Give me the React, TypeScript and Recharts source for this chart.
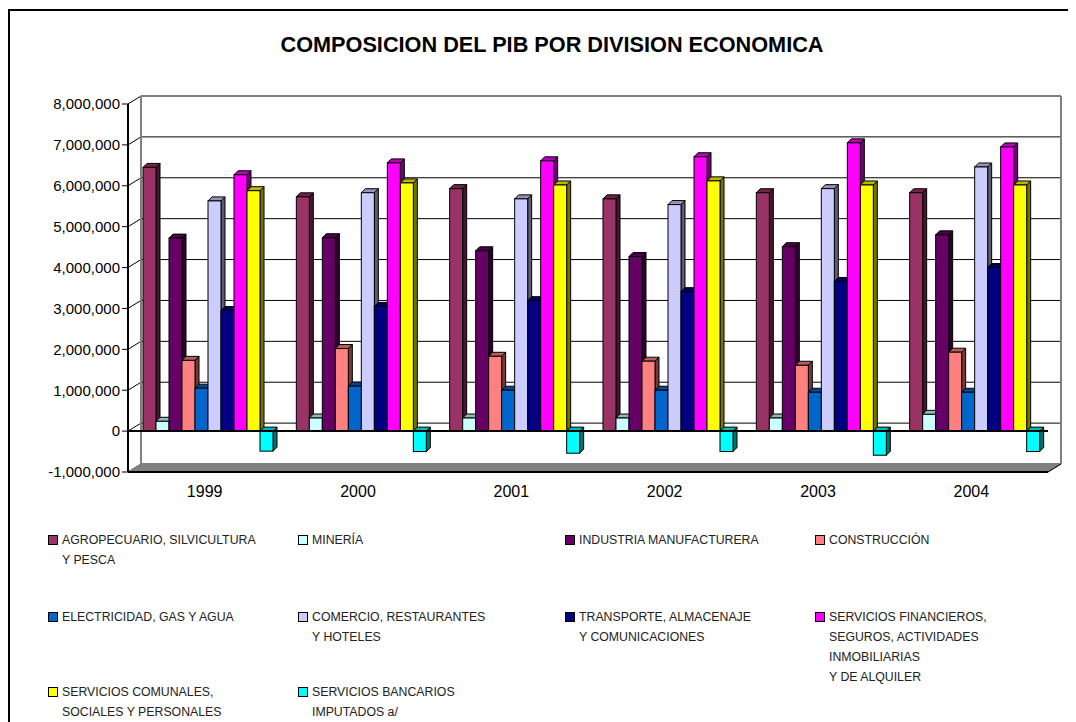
import React from 'react';
import { BarChart, Bar, XAxis, YAxis, CartesianGrid, ReferenceLine, ReferenceArea } from 'recharts';

const years = ['1999', '2000', '2001', '2002', '2003', '2004'];
const agropecuario = [6450000, 5730000, 5930000, 5680000, 5830000, 5830000];
const mineria = [240000, 320000, 320000, 320000, 320000, 410000];
const industria = [4720000, 4730000, 4410000, 4270000, 4510000, 4800000];
const construccion = [1730000, 2020000, 1830000, 1710000, 1610000, 1930000];
const electricidad = [1050000, 1100000, 1000000, 1000000, 950000, 950000];
const comercio = [5630000, 5830000, 5680000, 5540000, 5930000, 6460000];
const transporte = [2950000, 3050000, 3190000, 3410000, 3660000, 4000000];
const financieros = [6270000, 6560000, 6610000, 6710000, 7050000, 6950000];
const comunales = [5880000, 6070000, 6020000, 6120000, 6020000, 6020000];
const bancarios = [-490000, -500000, -540000, -500000, -590000, -500000];

const yTicks = [-1000000, 0, 1000000, 2000000, 3000000, 4000000, 5000000, 6000000, 7000000, 8000000];
const boundaryTicks = [0, 1, 2, 3, 4, 5, 6];

const seriesInfo = [
  { key: 'agro', values: agropecuario, lines: ['AGROPECUARIO, SILVICULTURA', 'Y PESCA'], color: '#993366' },
  { key: 'min', values: mineria, lines: ['MINERÍA'], color: '#CCFFFF' },
  { key: 'ind', values: industria, lines: ['INDUSTRIA MANUFACTURERA'], color: '#660066' },
  { key: 'con', values: construccion, lines: ['CONSTRUCCIÓN'], color: '#FF8080' },
  { key: 'ele', values: electricidad, lines: ['ELECTRICIDAD, GAS Y AGUA'], color: '#0066CC' },
  { key: 'com', values: comercio, lines: ['COMERCIO, RESTAURANTES', 'Y HOTELES'], color: '#CCCCFF' },
  { key: 'tra', values: transporte, lines: ['TRANSPORTE, ALMACENAJE', 'Y COMUNICACIONES'], color: '#000080' },
  { key: 'fin', values: financieros, lines: ['SERVICIOS FINANCIEROS,', 'SEGUROS, ACTIVIDADES', 'INMOBILIARIAS', 'Y DE ALQUILER'], color: '#FF00FF' },
  { key: 'scs', values: comunales, lines: ['SERVICIOS COMUNALES,', 'SOCIALES Y PERSONALES'], color: '#FFFF00' },
  { key: 'ban', values: bancarios, lines: ['SERVICIOS BANCARIOS', 'IMPUTADOS a/'], color: '#00FFFF' },
];

const data = years.map((year, i) => {
  const row: Record<string, any> = { year };
  seriesInfo.forEach((s) => { row[s.key] = s.values[i]; });
  return row;
});

const shade = (hex: string, f: number) => {
  const n = parseInt(hex.slice(1), 16);
  const r = Math.round(((n >> 16) & 255) * f);
  const g = Math.round(((n >> 8) & 255) * f);
  const b = Math.round((n & 255) * f);
  return `rgb(${r},${g},${b})`;
};

const WX = 13; // depth shift of back wall
const WY = 8;
const DX = 5; // bar shift into depth
const D = 4; // bar depth

const makeShape = (fill: string) => (props: any) => {
  const { x, y, width, height } = props;
  if (x == null || y == null || !width) return <g />;
  const t = Math.min(y, y + height);
  const h = Math.abs(height);
  const X = x + DX;
  const top = shade(fill, 0.72);
  const side = shade(fill, 0.45);
  return (
    <g>
      <polygon
        points={`${X + width},${t} ${X + width + D},${t - D} ${X + width + D},${t + h - D} ${X + width},${t + h}`}
        fill={side}
        stroke="#000"
        strokeWidth={1}
      />
      <polygon
        points={`${X},${t} ${X + D},${t - D} ${X + width + D},${t - D} ${X + width},${t}`}
        fill={top}
        stroke="#000"
        strokeWidth={1}
      />
      <rect x={X} y={t} width={width} height={h} fill={fill} stroke="#000" strokeWidth={1} />
    </g>
  );
};

const gridLine = (props: any) => {
  const { x1, y1, x2, index } = props;
  return (
    <g key={`gl-${index}-${y1}`}>
      <line x1={x1} y1={y1} x2={x1 + WX} y2={y1 - WY} stroke="#000" strokeWidth={1} />
      <line x1={x1 + WX} y1={y1 - WY} x2={x2 + WX} y2={y1 - WY} stroke="#000" strokeWidth={1} />
    </g>
  );
};

const wallShape = (props: any) => {
  const { x, y, width, height } = props;
  const b = y + height;
  return (
    <g>
      <polygon
        points={`${x},${b} ${x + WX},${b - WY} ${x + width + WX},${b - WY} ${x + width},${b}`}
        fill="#808080"
        stroke="#808080"
      />
      <line x1={x + WX} y1={y - WY} x2={x + WX} y2={b - WY} stroke="#808080" strokeWidth={2} />
      <line x1={x + WX} y1={y - WY} x2={x + width + WX} y2={y - WY} stroke="#808080" strokeWidth={2} />
      <line x1={x + width + WX} y1={y - WY} x2={x + width + WX} y2={b - WY} stroke="#808080" strokeWidth={2} />
      <line x1={x + width} y1={b} x2={x + width + WX} y2={b - WY} stroke="#000" strokeWidth={1} />
    </g>
  );
};

const fmt = (v: number) => v.toLocaleString('en-US');

const legendCols = [40, 290, 557, 807];
const legendRows = [522, 599, 674];

export default function App() {
  const font = '"Liberation Sans", Arial, sans-serif';
  return (
    <div style={{ position: 'relative', width: 1068, height: 714, overflow: 'hidden', background: '#fff', fontFamily: font }}>
      <div style={{ position: 'absolute', left: 0, top: 1, width: 3000, height: 3000, borderLeft: '2px solid #000', borderTop: '2px solid #000' }} />
      <div
        style={{
          position: 'absolute',
          left: 544,
          top: 26,
          transform: 'translateX(-50%)',
          whiteSpace: 'nowrap',
          fontWeight: 'bold',
          fontSize: 21.7,
          lineHeight: '22px',
          color: '#000',
        }}
      >
        COMPOSICION DEL PIB POR DIVISION ECONOMICA
      </div>
      <div style={{ position: 'absolute', left: 0, top: 0 }}>
        <BarChart
          width={1068}
          height={714}
          data={data}
          margin={{ top: 96, right: 28, bottom: 219, left: 0 }}
          barGap={0}
          barCategoryGap={10}
        >
          <ReferenceArea xAxisId="c" y1={-1000000} y2={8000000} shape={wallShape} ifOverflow="visible" />
          <CartesianGrid xAxisId="c" vertical={false} horizontal={gridLine} />
          <XAxis
            xAxisId="b"
            type="number"
            domain={[0, 6]}
            ticks={boundaryTicks}
            allowDataOverflow
            tick={false}
            height={1}
            axisLine={{ stroke: '#000', strokeWidth: 2 }}
            tickLine={{ stroke: '#000', strokeWidth: 1 }}
            tickSize={6}
          />
          <XAxis
            xAxisId="c"
            dataKey="year"
            height={30}
            axisLine={false}
            tickLine={false}
            tickSize={0}
            tickMargin={13}
            interval={0}
            tick={{ fontSize: 16, fill: '#000', fontFamily: font }}
          />
          <YAxis
            width={120}
            domain={[-1000000, 8000000]}
            ticks={yTicks}
            interval={0}
            tickFormatter={fmt}
            axisLine={{ stroke: '#000', strokeWidth: 2 }}
            tickLine={{ stroke: '#000', strokeWidth: 1 }}
            tickSize={6}
            tickMargin={2}
            tick={{ fontSize: 15, fill: '#000', fontFamily: font }}
          />
          {seriesInfo.map((s) => (
            <Bar
              key={s.key}
              xAxisId="c"
              dataKey={s.key}
              fill={s.color}
              shape={makeShape(s.color)}
              isAnimationActive={false}
            />
          ))}
          <ReferenceLine xAxisId="c" y={0} stroke="#000" strokeWidth={2} />
        </BarChart>
      </div>
      {seriesInfo.map((s, i) => {
        const col = i % 4;
        const row = Math.floor(i / 4);
        return (
          <div
            key={s.key}
            style={{
              position: 'absolute',
              left: legendCols[col],
              top: legendRows[row],
              fontSize: 12.3,
              lineHeight: '20px',
              color: '#222',
              whiteSpace: 'nowrap',
            }}
          >
            <div
              style={{
                position: 'absolute',
                left: 0,
                top: 5,
                width: 8,
                height: 8,
                background: s.color,
                border: '1.5px solid #000',
              }}
            />
            <div style={{ marginLeft: 14 }}>
              {s.lines.map((l, j) => (
                <div key={j}>{l}</div>
              ))}
            </div>
          </div>
        );
      })}
    </div>
  );
}
